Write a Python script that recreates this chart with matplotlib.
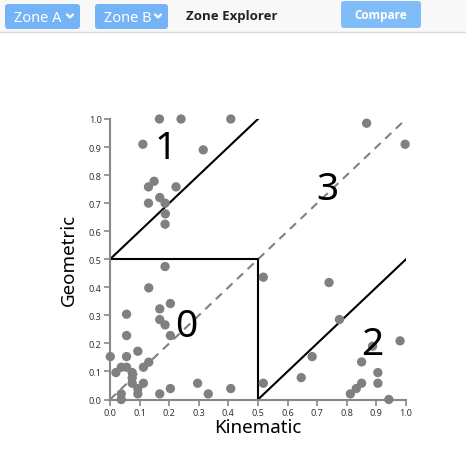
import matplotlib
matplotlib.use("Agg")
import matplotlib.pyplot as plt
from matplotlib.patches import FancyBboxPatch, Rectangle

plt.rcParams['font.family'] = ['Noto Sans', 'DejaVu Sans']

# data points (Kinematic, Geometric)
kinematic = [0.167, 0.24, 0.408, 0.111, 0.315, 0.149, 0.13, 0.223, 0.168, 0.13,
             0.186, 0.187, 0.186,
             0.186, 0.131, 0.056, 0.168, 0.204, 0.168, 0.186, 0.204, 0.056, 0.001,
             0.056, 0.094, 0.131, 0.113, 0.02, 0.038, 0.056, 0.075, 0.075, 0.075,
             0.113, 0.094, 0.094, 0.038, 0.038, 0.168, 0.204, 0.296, 0.332, 0.408,
             0.867, 0.997,
             0.518, 0.74, 0.775, 0.98, 0.887, 0.683, 0.85, 0.905, 0.646, 0.518,
             0.85, 0.905, 0.832, 0.812, 0.942]
geometric = [1.0, 1.0, 1.0, 0.91, 0.89, 0.778, 0.758, 0.758, 0.72, 0.70,
             0.70, 0.662, 0.625,
             0.474, 0.398, 0.304, 0.323, 0.342, 0.285, 0.266, 0.228, 0.228, 0.153,
             0.153, 0.172, 0.133, 0.115, 0.096, 0.115, 0.115, 0.096, 0.077, 0.058,
             0.058, 0.039, 0.02, 0.02, 0.0, 0.02, 0.039, 0.058, 0.02, 0.039,
             0.985, 0.91,
             0.436, 0.417, 0.285, 0.209, 0.19, 0.153, 0.134, 0.096, 0.078, 0.058,
             0.058, 0.058, 0.039, 0.02, 0.0]

zone_labels = ['0', '1', '2', '3']
zone_label_x = [0.257, 0.189, 0.885, 0.733]
zone_label_y = [0.262, 0.895, 0.198, 0.751]

ticks = [0.0, 0.1, 0.2, 0.3, 0.4, 0.5, 0.6, 0.7, 0.8, 0.9, 1.0]

W, H = 466, 452
fig = plt.figure(figsize=(W / 100, H / 100), dpi=100)
fig.patch.set_facecolor('white')

# header bar
hdr = fig.add_axes([0, 0, 1, 1], zorder=5)
hdr.set_xlim(0, W)
hdr.set_ylim(H, 0)
hdr.axis('off')
hdr.patch.set_alpha(0)
hdr.add_patch(Rectangle((0, 0), W, 33, color='#f8f8f8', lw=0))
hdr.plot([0, W], [33, 33], color='#d8d8d8', lw=1)
for x0, w, lab in [(5, 75, 'Zone A'), (95, 73, 'Zone B')]:
    hdr.add_patch(FancyBboxPatch((x0, 5), w, 25, boxstyle='round,pad=0,rounding_size=3',
                                 fc='#74b3f5', ec='none'))
    hdr.text(x0 + 9, 18, lab, color='white', fontsize=10.5, va='center', ha='left')
    cx = x0 + w - 10
    hdr.plot([cx - 3, cx, cx + 3], [15.5, 18.5, 15.5], color='white', lw=1.6,
             solid_capstyle='round', solid_joinstyle='round')
hdr.text(186, 16.5, 'Zone Explorer', fontsize=9.5, fontweight='bold', color='#222222',
         va='center', ha='left', family='Open Sans')
hdr.add_patch(FancyBboxPatch((341, 2), 80, 27, boxstyle='round,pad=0,rounding_size=3',
                             fc='#80bdf8', ec='none'))
hdr.text(381, 16, 'Compare', fontsize=8.5, fontweight='bold', color='white',
         va='center', ha='center', family='Open Sans')

ax = fig.add_axes([110 / W, 1 - 400.5 / H, 296 / W, 280.5 / H])
ax.set_xlim(0, 1)
ax.set_ylim(0, 1)

# zone boundaries
ax.plot([0, 1], [0, 1], color='#808080', lw=1.5, ls=(0, (4, 3)), zorder=1)
ax.plot([0, 0.5], [0.5, 1.0], color='black', lw=1.5, zorder=2)
ax.plot([0, 0.5, 0.5], [0.5, 0.5, 0], color='black', lw=1.5, zorder=2)
ax.plot([0.5, 1.0], [0, 0.5], color='black', lw=1.5, zorder=2)

ax.scatter(kinematic, geometric, s=45, color='#808080', zorder=3, clip_on=False,
           edgecolors='none')

for lab, x, y in zip(zone_labels, zone_label_x, zone_label_y):
    ax.text(x, y, lab, fontsize=28, ha='center', va='center', color='black', zorder=4)

for side in ['top', 'right']:
    ax.spines[side].set_visible(False)
for side in ['left', 'bottom']:
    ax.spines[side].set_color('#888888')
    ax.spines[side].set_linewidth(1.5)
ax.set_xticks(ticks)
ax.set_yticks(ticks)
ax.set_xticklabels(['%.1f' % t for t in ticks])
ax.set_yticklabels(['%.1f' % t for t in ticks])
ax.tick_params(colors='#888888', labelcolor='#333333', labelsize=6.5, length=4,
               width=1.2, pad=2)
ax.set_xlabel('Kinematic', fontsize=13.5, labelpad=1)
ax.set_ylabel('Geometric', fontsize=13.5, labelpad=8)

fig.savefig('out.png', dpi=100)
